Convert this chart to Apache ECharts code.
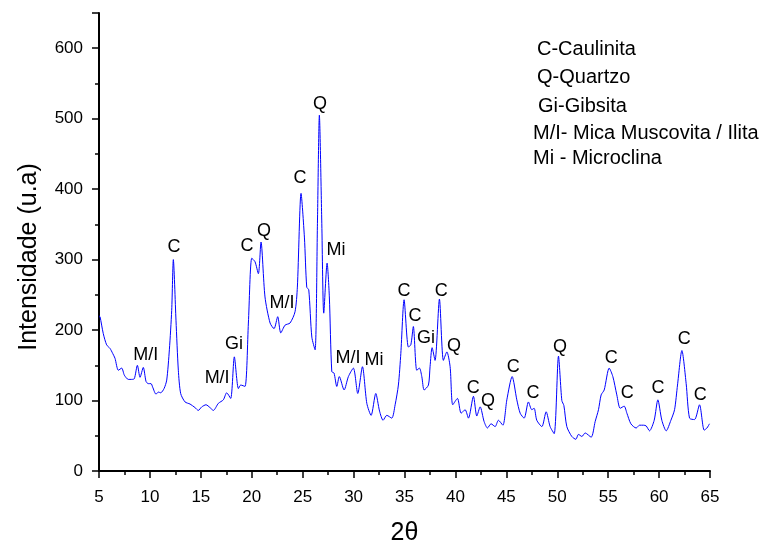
<!DOCTYPE html>
<html><head><meta charset="utf-8">
<script src="https://cdn.jsdelivr.net/npm/echarts@6/dist/echarts.min.js"></script>
<style>html,body{margin:0;padding:0;background:#fff}#c{width:766px;height:544px}</style>
</head><body><div id="c"></div>
<script>
const twoTheta = [5.0,5.1,5.42,5.75,6.08,6.34,6.57,6.9,7.23,7.49,7.88,8.21,8.47,8.77,9.03,9.35,9.62,9.84,10.11,10.27,10.6,10.83,11.06,11.39,11.65,11.91,12.14,12.3,12.56,12.79,13.02,13.45,13.94,14.43,14.75,15.09,15.51,15.9,16.23,16.72,17.21,17.54,17.93,18.29,18.69,18.92,19.34,19.67,20.0,20.32,20.65,20.91,21.3,21.8,22.19,22.55,22.85,23.27,23.76,24.25,24.48,24.84,25.17,25.4,25.6,25.9,26.22,26.45,26.64,26.88,27.07,27.4,27.62,27.86,28.08,28.35,28.6,29.07,29.49,29.98,30.41,30.87,31.3,31.72,32.18,32.55,32.9,33.26,33.75,34.08,34.4,34.64,34.96,35.38,35.62,35.87,36.2,36.47,36.7,36.93,37.35,37.51,37.71,38.0,38.43,38.82,39.16,39.48,39.74,40.2,40.56,40.95,41.28,41.77,42.1,42.43,42.82,43.15,43.5,43.9,44.22,44.66,45.05,45.57,46.03,46.36,46.75,47.17,47.5,47.73,47.99,48.49,48.91,49.3,49.7,50.12,50.45,50.65,50.94,51.43,51.83,52.08,52.42,52.74,53.33,53.72,54.05,54.31,54.61,55.1,55.46,55.85,56.18,56.57,56.84,57.23,57.75,58.08,58.47,58.73,59.06,59.52,59.88,60.27,60.7,61.16,61.52,61.81,62.24,62.66,62.99,63.48,63.97,64.43,64.7,64.95];
const intensity = [220,219,195,179,174,167,160,143,146,136,130,130,131,150,133,147,127,124,124,119,109,112,111,117,129,172,228,300,214,143,110,98,95,90,86,91,94,90,86,96,101,111,103,162,117,122,120,210,302,297,280,325,247,210,202,219,196,207,210,226,261,394,332,261,257,190,172,351,505,351,224,295,247,141,139,120,134,115,134,146,110,148,96,79,110,85,72,79,75,94,122,167,243,176,179,205,143,146,134,115,122,148,175,157,244,157,169,148,94,103,82,87,75,106,78,91,70,61,67,63,72,65,101,134,101,82,75,98,87,89,72,63,84,63,53,163,100,93,63,49,45,52,49,54,48,70,87,108,115,146,134,108,89,92,82,67,61,65,65,64,57,72,101,72,57,72,87,122,171,124,75,73,94,58,61,67];
const peakX = [9.6,12.37,16.6,18.26,19.54,21.2,22.98,24.74,26.7,28.28,29.46,32.0,34.96,36.04,37.12,38.6,39.87,41.74,43.2,45.67,47.63,50.28,55.3,56.87,59.9,62.47,64.04];
const peakY = [164,318,132,180,319,340,238,416,521,313,160,157,255,220,189,255,177,118,99,148,111,176,160,111,118,187,108];
const peakLabels = ['M/I','C','M/I','Gi','C','Q','M/I','C','Q','Mi','M/I','Mi','C','C','Gi','C','Q','C','Q','C','C','Q','C','C','C','C','C'];
const legendLines = ['C-Caulinita','Q-Quartzo','Gi-Gibsita','M/I- Mica Muscovita / Ilita','Mi - Microclina'];
const xTitle = '2θ';
const yTitle = 'Intensidade (u.a)';

const FONT = 'Liberation Sans, Arial, sans-serif';
const chart = echarts.init(document.getElementById('c'));
const lineData = twoTheta.map((x, i) => [x, intensity[i]]);
const labelData = peakX.map((x, i) => ({ value: [x, peakY[i]], name: peakLabels[i] }));
const legendPos = [[537,49],[537,77],[538,106],[533,133],[533,158]];
chart.setOption({
  animation: false,
  backgroundColor: '#fff',
  grid: { left: 99, right: 56, top: 13, bottom: 73, outerBoundsMode: 'none', containLabel: false },
  xAxis: {
    type: 'value', min: 5, max: 65, interval: 5,
    name: xTitle, nameLocation: 'middle', nameGap: 50,
    nameTextStyle: { fontFamily: FONT, fontSize: 25, color: '#000' },
    axisLine: { onZero: false, lineStyle: { color: '#000', width: 2 } },
    axisTick: { inside: false, length: 7, lineStyle: { color: '#000', width: 1.5 } },
    minorTick: { show: true, splitNumber: 2, length: 4, lineStyle: { color: '#000', width: 1.5 } },
    axisLabel: { fontFamily: FONT, fontSize: 17, color: '#000', margin: 18 },
    splitLine: { show: false }
  },
  yAxis: {
    type: 'value', min: 0, max: 650, interval: 100,
    axisLine: { show: true, onZero: false, lineStyle: { color: '#000', width: 2 } },
    axisTick: { show: true, inside: false, length: 7, lineStyle: { color: '#000', width: 1.5 } },
    minorTick: { show: true, splitNumber: 2, length: 4, lineStyle: { color: '#000', width: 1.5 } },
    axisLabel: { fontFamily: FONT, fontSize: 17, color: '#000', margin: 16, showMaxLabel: false },
    splitLine: { show: false }
  },
  series: [
    {
      type: 'line', data: lineData, symbol: 'none', smooth: 0.25,
      lineStyle: { color: '#0000ff', width: 1 }, silent: true
    },
    {
      type: 'scatter', data: labelData, symbolSize: 0,
      itemStyle: { color: '#000' },
      label: { show: true, position: 'inside', formatter: '{b}',
        fontFamily: FONT, fontSize: 18, color: '#000', textBorderWidth: 0, opacity: 1 },
      labelLayout: { hideOverlap: false },
      silent: true
    }
  ],
  graphic: legendLines.map((t, i) => ({
    type: 'text', left: legendPos[i][0], top: legendPos[i][1] - 10,
    style: { text: t, fontFamily: FONT, fontSize: 20, fill: '#000' }
  })).concat([{
    type: 'text', x: 29, y: 257, rotation: Math.PI / 2,
    style: { text: yTitle, fontFamily: FONT, fontSize: 25, fill: '#000', align: 'center', verticalAlign: 'middle' }
  }])
});
</script></body></html>
